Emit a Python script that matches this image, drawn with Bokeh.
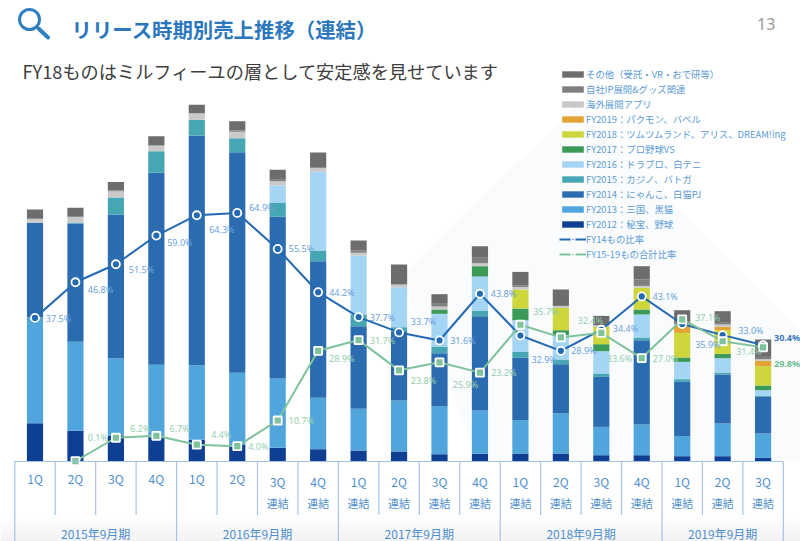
from bokeh.plotting import figure
from bokeh.models import Range1d, LinearScale, Legend, LegendItem, ColumnDataSource
from bokeh.core.properties import value
from bokeh.embed import file_html
from bokeh.resources import INLINE

# ---------- data ----------
QUARTERS = ["1Q","2Q","3Q","4Q","1Q","2Q","3Q","4Q","1Q","2Q","3Q","4Q","1Q","2Q","3Q","4Q","1Q","2Q","3Q"]
CONSOLIDATED = [0,0,0,0,0,0,1,1,1,1,1,1,1,1,1,1,1,1,1]
FISCAL_YEARS = ["2015年9月期","2016年9月期","2017年9月期","2018年9月期","2019年9月期"]

FY2012 = [38.3,30.7,26.0,24.3,21.7,17.0,13.7,12.3,11.0,10.0,7.3,7.7,8.0,8.0,6.3,6.3,5.3,5.3,3.6]
FY2013 = [106.0,89.0,77.3,72.4,74.6,71.7,69.3,51.4,41.7,51.0,48.0,43.3,33.3,40.0,28.3,30.7,20.3,32.7,24.4]
FY2014 = [94.4,118.3,143.4,192.0,229.4,220.6,161.7,136.6,82.6,69.3,53.0,94.3,62.3,49.3,50.0,84.3,54.0,49.0,36.6]
FY2015 = [0,1.0,17.3,21.6,16.0,14.0,14.3,10.7,11.7,4.0,6.7,5.7,6.0,4.7,3.4,2.7,2.7,2.0,1.0]
FY2016 = [0,0,0,0,0,0,17.0,78.7,59.0,40.0,32.7,34.0,31.7,24.3,22.3,23.0,17.3,14.3,5.7]
FY2017 = [0,0,0,0,0,0,0,0,0,0,4.3,10.3,11.7,5.0,7.0,5.0,4.4,4.3,4.7]
FY2018 = [0,0,0,0,0,0,0,0,0,0,0,0,19.0,22.3,17.3,22.0,24.6,23.7,19.3]
FY2019 = [0,0,0,0,0,0,0,0,0,0,0,0,0,0,0,0,7.0,3.3,5.3]
OVERSEAS = [4.0,5.7,6.3,5.7,6.6,6.4,4.3,4.0,2.7,2.7,3.0,3.0,2.6,2.0,1.7,1.6,1.7,2.4,1.7]
OWN_IP = [0,0,0.7,0,0,1.3,1.4,0,2.3,0,2.7,5.4,1.7,0,0,6.4,2.3,1.7,2.3]
OTHER = [9.3,9.0,8.4,9.3,8.4,9.3,10.0,15.3,10.0,20.0,9.6,11.6,13.3,16.4,9.3,13.3,11.7,11.6,17.4]

FY14_RATIO = [37.5,46.8,51.5,59.0,64.3,64.9,55.5,44.2,37.7,33.7,31.6,43.8,32.9,28.9,34.4,43.1,35.9,33.0,30.4]
FY15_19_RATIO = [float("nan"),0.1,6.2,6.7,4.4,4.0,10.7,28.9,31.7,23.8,25.9,23.2,35.7,32.4,33.6,27.0,37.1,31.4,29.8]

STACK_KEYS = ["FY2012","FY2013","FY2014","FY2015","FY2016","FY2017","FY2018","FY2019","OVERSEAS","OWN_IP","OTHER"]
STACK_COLS = [FY2012,FY2013,FY2014,FY2015,FY2016,FY2017,FY2018,FY2019,OVERSEAS,OWN_IP,OTHER]
STACK_NAMES = ["FY2012：秘宝、野球","FY2013：三国、黒猫","FY2014：にゃんこ、白猫PJ","FY2015：カジノ、バトガ",
               "FY2016：ドラプロ、白テニ","FY2017：プロ野球VS","FY2018：ツムツムランド、アリス、DREAM!ing",
               "FY2019：パクモン、バベル","海外展開アプリ","自社IP展開&グッズ関連","その他（受託・VR・おで研等）"]
LINE_NAMES = ["FY14もの比率","FY15-19もの合計比率"]

# ---------- styles / layout (reference-pixel helpers) ----------
COLORS = ["#0f3f93","#4fa5dc","#2b6cb0","#47a6b3","#a5d5f5","#3c9a58","#cdd63a","#e3a433","#c9c9c9","#7f7f7f","#6d6d6d"]
BLUE, GREEN = "#2369b3", "#7fc29b"
BLUE_TXT, GREEN_TXT, TBL_TXT, TBL_LINE = "#6ba2da", "#93cfae", "#4f8fce", "#a3c4e8"
JP = value("Noto Sans CJK JP")
X0, STEP, BASE = 34.5, 40.45, 461.0
PX_PER_PCT = 3.83
W, H = 800, 541

def X(px): return (px - X0) / STEP
def Y(py): return BASE - py

BLUE_LBL_X = [45.3,87.3,128.3,166.7,208.7,248.7,288.3,328.7,369.3,410.3,449.7,490.3,531,570.7,612.3,652,694.7,737.7,773.5]
BLUE_LBL_Y = [317.7,288.7,269.3,241.7,229.3,206.7,248.3,291.7,317,320.7,340,293,359,350.3,328,295.7,344,330.3,337]
GREEN_LBL_X = [0,87.3,129.7,169,210.7,247.7,288.3,328.7,369.3,410.3,452.3,490.7,532.7,577.3,606.3,652.3,694.7,735.7,773.5]
GREEN_LBL_Y = [0,436.7,427.7,427.7,434,446,420.3,358.3,340,380,384.3,372.3,310.7,320,358,358,316.7,351,362.7]

p = figure(width=W, height=H, output_backend="svg", toolbar_location=None,
           x_range=Range1d(X(0), X(800)), y_range=Range1d(Y(541), Y(0)),
           x_axis_type=None, y_axis_type=None, min_border=0,
           outline_line_color=None, background_fill_color="white", border_fill_color="white")
p.grid.visible = False
p.extra_y_ranges = {"pct": Range1d(Y(541)/PX_PER_PCT, Y(0)/PX_PER_PCT)}
p.extra_y_scales = {"pct": LinearScale()}

# faint slide decoration
p.patch([X(v) for v in (400,575,800,800,620,480)], [Y(v) for v in (277,105,330,461,461,461)],
        fill_color="#fafbfd", line_color=None)
# bottom fade
for i in range(26):
    g = 255 - int(i * 0.7)
    p.quad(left=X(0), right=X(800), top=Y(515+i), bottom=Y(516+i), fill_color=f"#{g:02x}{g:02x}{g:02x}", line_color=None)

# stacked bars
idx = list(range(19))
src = ColumnDataSource({"x": idx, **dict(zip(STACK_KEYS, STACK_COLS))})
bars = p.vbar_stack(STACK_KEYS, x="x", width=0.4, color=COLORS, source=src, line_color=None)

# ratio lines
l1 = p.line(idx, FY14_RATIO, y_range_name="pct", line_color=BLUE, line_width=2)
m1 = p.scatter(idx, FY14_RATIO, y_range_name="pct", marker="circle", size=8, fill_color=BLUE, line_color="white", line_width=1.8)
l2 = p.line(idx, FY15_19_RATIO, y_range_name="pct", line_color=GREEN, line_width=2)
m2 = p.scatter(idx, FY15_19_RATIO, y_range_name="pct", marker="square", size=8, fill_color=GREEN, line_color="white", line_width=1.8)

# data labels
def pct_labels(vals, xs, ys, color, last_color):
    for i, v in enumerate(vals):
        if v != v:
            continue
        dx = xs[i] - (X0 + STEP * i)
        dy = ys[i] - (BASE - v * PX_PER_PCT)
        last = i == len(vals) - 1
        p.text([i], [v], text=[f"{v:.1f}%"], y_range_name="pct", x_offset=dx, y_offset=dy,
               text_font=value("Noto Sans"), text_font_size="9px", text_baseline="middle",
               text_color=last_color if last else color, text_font_style="bold" if last else "normal")
pct_labels(FY14_RATIO, BLUE_LBL_X, BLUE_LBL_Y, BLUE_TXT, "#3a78bd")
pct_labels(FY15_19_RATIO, GREEN_LBL_X, GREEN_LBL_Y, GREEN_TXT, "#6fbb92")

# table under the axis
left_edge, right_edge = -0.5, 18.5
p.segment([left_edge], [0], [right_edge], [0], line_color=TBL_LINE, line_width=1.2)
year_edges = [-0.5, 3.5, 7.5, 11.5, 15.5, 18.5]
for e in [i - 0.5 for i in range(20)]:
    bottom = Y(541) if e in year_edges else Y(514.5)
    p.segment([e], [0], [e], [bottom], line_color=TBL_LINE, line_width=1.2)
for i, q in enumerate(QUARTERS):
    py = 481 if CONSOLIDATED[i] else 478.3
    p.text([i], [Y(py)], text=[q], text_font=JP, text_font_size="12px", text_align="center",
           text_baseline="middle", text_color=TBL_TXT)
    if CONSOLIDATED[i]:
        p.text([i], [Y(502.7)], text=["連結"], text_font=JP, text_font_size="11px", text_align="center",
               text_baseline="middle", text_color=TBL_TXT)
for j, fy in enumerate(FISCAL_YEARS):
    p.text([(year_edges[j] + year_edges[j+1]) / 2], [Y(533)], text=[fy], text_font=JP, text_font_size="12px",
           text_align="center", text_baseline="middle", text_color=TBL_TXT)

# header
p.scatter([X(29)], [Y(19)], marker="circle", size=20, fill_color="white", line_color="#2f7fc1", line_width=3)
p.segment([X(38)], [Y(28)], [X(47.5)], [Y(37)], line_color="#2f7fc1", line_width=4, line_cap="round")
p.text([X(71)], [Y(28)], text=["リリース時期別売上推移（連結）"], text_font=JP, text_font_size="20.4px",
       text_font_style="bold", text_baseline="middle", text_color="#2b77bd")
p.text([X(22)], [Y(70)], text=["FY18ものはミルフィーユの層として安定感を見せています"], text_font=JP, text_font_size="18.2px",
       text_baseline="middle", text_color="#404040")
p.text([X(756.5)], [Y(23)], text=["13"], text_font=value("Noto Sans"), text_font_size="16px",
       text_baseline="middle", text_color="#9a9a9a")

# legend
items = [LegendItem(label=STACK_NAMES[i], renderers=[bars[i]]) for i in range(10, -1, -1)]
items += [LegendItem(label=LINE_NAMES[0], renderers=[l1, m1]), LegendItem(label=LINE_NAMES[1], renderers=[l2, m2])]
legend = Legend(items=items, location=(559, 280), orientation="vertical", background_fill_alpha=0, border_line_color=None,
                padding=0, margin=0, spacing=1, label_height=13, glyph_height=8, glyph_width=27, label_standoff=0,
                label_text_font="Noto Sans CJK JP", label_text_font_size="9.4px", label_text_color="#5b9bd5",
                label_text_baseline="middle")
p.add_layout(legend, "center")

open("out.html", "w").write(file_html(p, INLINE))
